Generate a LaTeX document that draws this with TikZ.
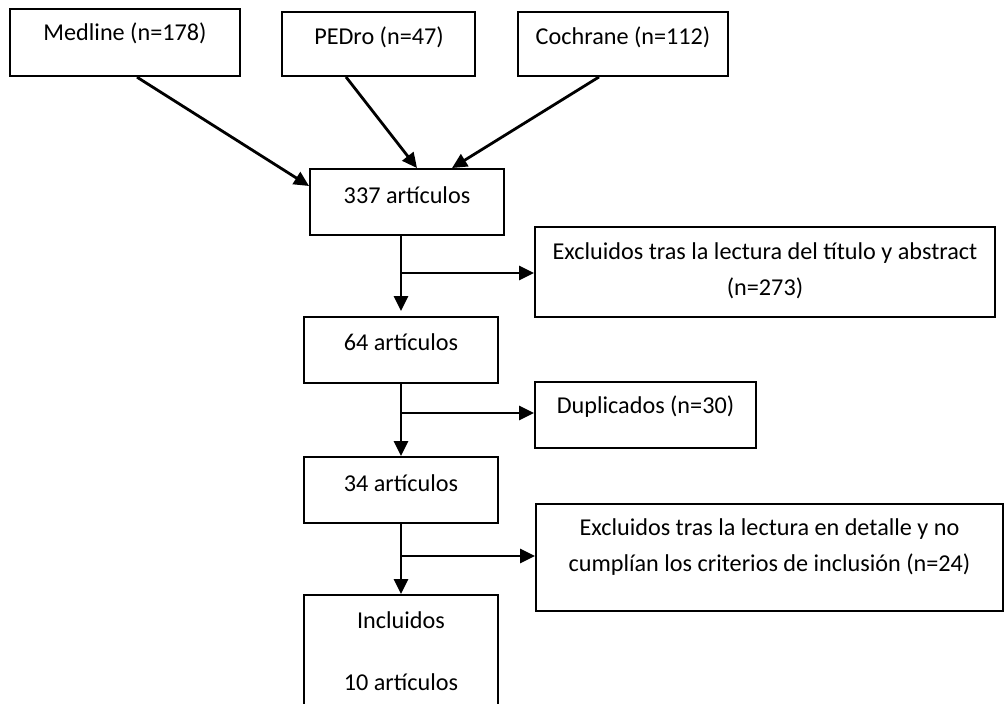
\documentclass[tikz,border=0pt]{standalone}
\usepackage{fontspec}
\setmainfont{Carlito}
\usetikzlibrary{arrows.meta,calc}
\begin{document}
\begin{tikzpicture}[x=1pt,y=-1pt,
  box/.style={draw=black, line width=1.9pt, fill=white, inner sep=0pt},
  txt/.style={inner sep=0pt, align=center, font=\fontsize{24.2}{36}\selectfont},
  arr/.style={draw=black, line width=2.8pt, -{Triangle[length=15pt,width=14pt]}}]
\useasboundingbox (0,0) rectangle (1005,704);
\clip (0,0) rectangle (1005,704);
\fill[white] (0,0) rectangle (1005,704);
% boxes
\node[box, minimum width=230pt, minimum height=67pt] (med) at (125,42.7) {};
\node[box, minimum width=193pt, minimum height=64pt] (ped) at (378.5,44) {};
\node[box, minimum width=210pt, minimum height=64pt] (coc) at (623,44) {};
\node[box, minimum width=194pt, minimum height=66pt] (a337) at (407,202) {};
\node[box, minimum width=460pt, minimum height=90pt] (ex1) at (765,272) {};
\node[box, minimum width=194pt, minimum height=66pt] (a64) at (401,350) {};
\node[box, minimum width=221pt, minimum height=66pt] (dup) at (645.5,415) {};
\node[box, minimum width=194pt, minimum height=66pt] (a34) at (401,490) {};
\node[box, minimum width=467pt, minimum height=107pt] (ex2) at (769.5,557.5) {};
\node[box, minimum width=194pt, minimum height=165pt] (inc) at (401,677.5) {};
% texts
\node[txt] (medt) at (125,33) {Medline (n=178)};
\node[txt] (pedt) at (379,37) {PEDro (n=47)};
\node[txt] (coct) at (623,37) {Cochrane (n=112)};
\node[txt] (a337t) at (407,195) {337 artículos};
\node[txt] (ex1t) at (765,271) {Excluidos tras la lectura del título y abstract\\(n=273)};
\node[txt] (a64t) at (401,342) {64 artículos};
\node[txt] (dupt) at (645.5,407) {Duplicados (n=30)};
\node[txt] (a34t) at (401,483) {34 artículos};
\node[txt] (ex2t) at (769.5,547) {Excluidos tras la lectura en detalle y no\\cumplían los criterios de inclusión (n=24)};
\node[txt] (inct1) at (401,620) {Incluidos};
\node[txt] (inct2) at (401,682) {10 artículos};
% connectors
\draw[arr] ($(med.south)+(12,0)$) -- ($(a337.west)+(0,-16)$);
\draw[arr] ($(ped.south)+(-32.5,0)$) -- ($(a337.north)+(10,0)$);
\draw[arr] ($(coc.south)+(-24,0)$) -- ($(a337.north)+(45,0)$);
\draw[arr] (a337.south -| a64.north) -- ($(a64.north)+(0,-5)$);
\draw[arr] ($(a337.south -| a64.north)+(0,37)$) -- ($(a337.south -| ex1.west)+(0,37)$);
\draw[arr] (a64.south) -- (a34.north);
\draw[arr] ($(a64.south)+(0,29)$) -- ($(a64.south -| dup.west)+(0,29)$);
\draw[arr] (a34.south) -- (inc.north);
\draw[arr] ($(a34.south)+(0,32)$) -- ($(a34.south -| ex2.west)+(0,32)$);
\end{tikzpicture}
\end{document}
